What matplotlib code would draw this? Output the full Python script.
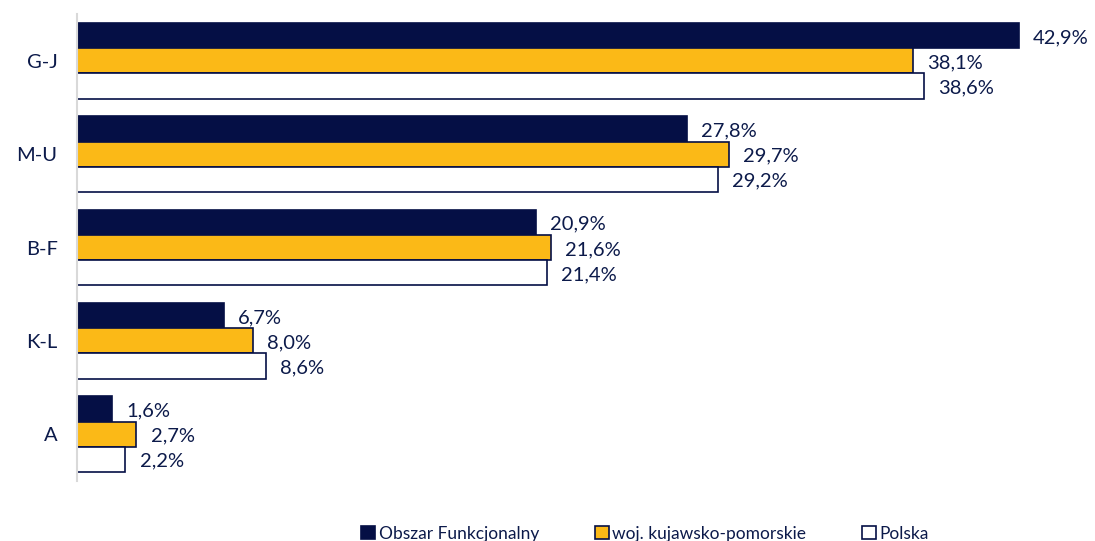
import matplotlib.pyplot as plt
import numpy as np
from matplotlib.patches import Patch

# Data
categories = ['G-J', 'M-U', 'B-F', 'K-L', 'A']
obszar = [42.9, 27.8, 20.9, 6.7, 1.6]
kujawsko = [38.1, 29.7, 21.6, 8.0, 2.7]
polska = [38.6, 29.2, 21.4, 8.6, 2.2]
series_names = ['Obszar Funkcjonalny', 'woj. kujawsko-pomorskie', 'Polska']

navy = '#050F45'
orange = '#FBB917'
text_col = '#0C1A4A'

plt.rcParams['font.family'] = ['Lato', 'DejaVu Sans']

fig = plt.figure(figsize=(10.95, 5.41), dpi=100)
ax = fig.add_axes([0.0703, 0.111, 0.902, 0.863])

y = np.arange(len(categories))
h = 0.27
series = [obszar, kujawsko, polska]
faces = [navy, orange, 'white']
for i, (vals, fc) in enumerate(zip(series, faces)):
    pos = y + (i - 1) * h
    ax.barh(pos, vals, height=h, color=fc, edgecolor=navy, linewidth=1.2)
    for p, v in zip(pos, vals):
        ax.text(v + 0.65, p + 0.02, f'{v:.1f}%'.replace('.', ','), va='center', ha='left',
                fontsize=14.5, color=text_col)

ax.set_yticks(y)
ax.set_yticklabels(categories, fontsize=14.5, color=text_col)
ax.set_ylim(len(categories) - 0.5, -0.5)
ax.set_xlim(0, 45)
ax.set_xticks([])
ax.tick_params(axis='y', length=0, pad=14)
for s in ['top', 'right', 'bottom']:
    ax.spines[s].set_visible(False)
ax.spines['left'].set_color('#D9D9D9')
ax.spines['left'].set_linewidth(1.5)

handles = [Patch(facecolor=fc, edgecolor=navy, linewidth=1.2) for fc in faces]
fig.legend(handles, series_names, loc='lower center', bbox_to_anchor=(0.589, -0.03), ncol=3,
           frameon=False, fontsize=12.5, handlelength=0.8, handleheight=0.8,
           handletextpad=0.2, columnspacing=3.2, labelcolor=text_col)

fig.savefig('out.png', dpi=100)
